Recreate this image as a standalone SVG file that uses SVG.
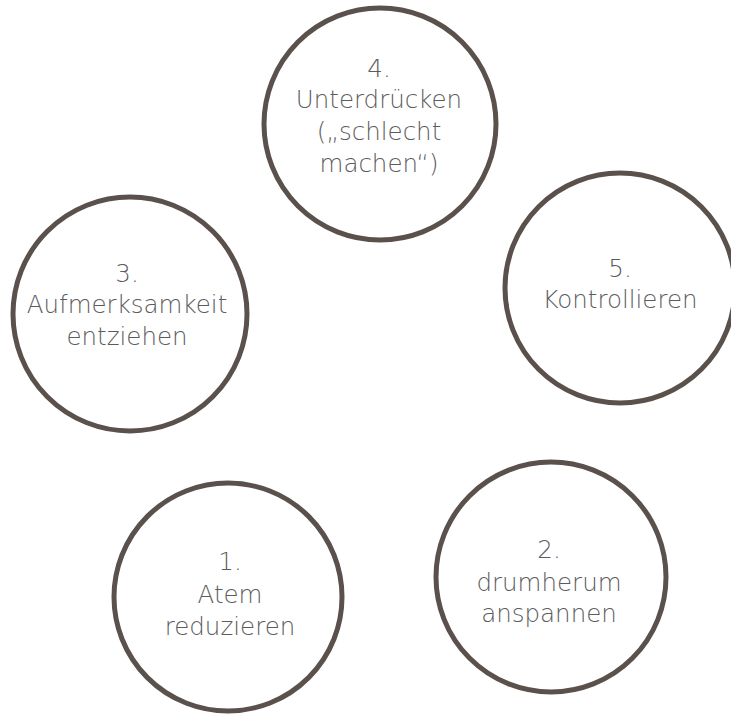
<svg xmlns="http://www.w3.org/2000/svg" width="731" height="715" viewBox="0 0 731 715">
<style>
.c{fill:#ffffff;stroke:#5a514d;stroke-width:5}
.t{font-family:"DejaVu Sans","Liberation Sans",sans-serif;font-size:24.5px;fill:#5c5c5c;text-anchor:middle;font-weight:300}
</style>
<rect width="731" height="715" fill="#ffffff"/>
<g id="connectors"></g>
<g id="node4">
<circle class="c" cx="380" cy="124" r="116"/>
<text class="t" x="379" y="77">4.</text>
<text class="t" x="379" y="108">Unterdrücken</text>
<text class="t" x="379" y="140">(„schlecht</text>
<text class="t" x="379" y="172">machen“)</text>
</g>
<g id="node3">
<circle class="c" cx="130" cy="314" r="117"/>
<text class="t" x="127" y="282">3.</text>
<text class="t" x="127" y="313">Aufmerksamkeit</text>
<text class="t" x="127" y="345">entziehen</text>
</g>
<g id="node5">
<circle class="c" cx="620" cy="288" r="115"/>
<text class="t" x="620" y="277">5.</text>
<text class="t" x="620" y="308">Kontrollieren</text>
</g>
<g id="node1">
<circle class="c" cx="228" cy="597" r="114"/>
<text class="t" x="230" y="570">1.</text>
<text class="t" x="230" y="603">Atem</text>
<text class="t" x="230" y="635">reduzieren</text>
</g>
<g id="node2">
<circle class="c" cx="551" cy="577" r="115"/>
<text class="t" x="549" y="558">2.</text>
<text class="t" x="549" y="591">drumherum</text>
<text class="t" x="549" y="622">anspannen</text>
</g>
</svg>
